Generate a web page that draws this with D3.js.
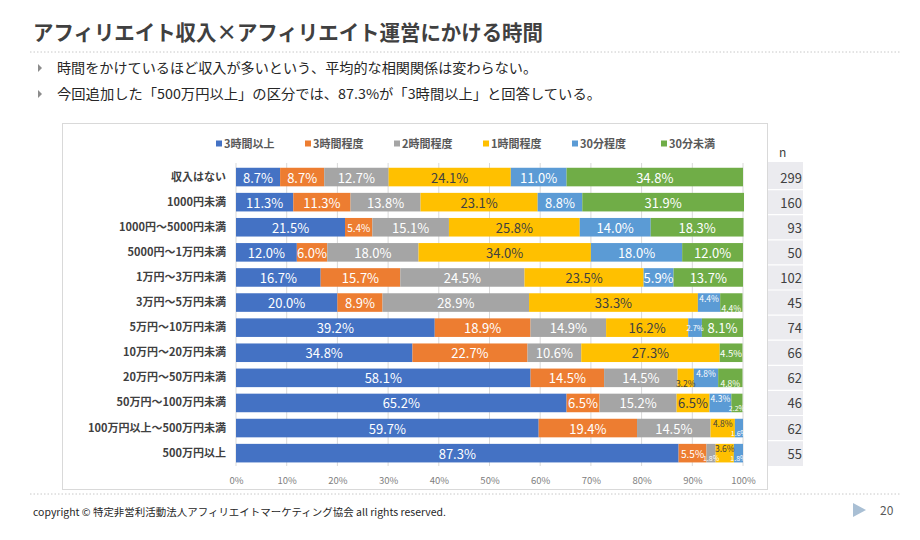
<!DOCTYPE html>
<html><head><meta charset="utf-8">
<script src="https://cdn.jsdelivr.net/npm/d3@7"></script>
<style>
html,body{margin:0;padding:0;background:#fff;}
svg text{font-family:"Noto Sans CJK JP","Noto Sans",sans-serif;}
</style></head>
<body><svg id="c" width="920" height="540"></svg>
<script>
const title = "アフィリエイト収入×アフィリエイト運営にかける時間";
const bullets = ["時間をかけているほど収入が多いという、平均的な相関関係は変わらない。",
  "今回追加した「500万円以上」の区分では、87.3%が「3時間以上」と回答している。"];
const footer = "copyright © 特定非営利活動法人アフィリエイトマーケティング協会 all rights reserved.";
const pageNo = "20";

const categories = ["収入はない","1000円未満","1000円～5000円未満","5000円～1万円未満","1万円～3万円未満",
  "3万円～5万円未満","5万円～10万円未満","10万円～20万円未満","20万円～50万円未満","50万円～100万円未満",
  "100万円以上～500万円未満","500万円以上"];
const seriesNames = ["3時間以上","3時間程度","2時間程度","1時間程度","30分程度","30分未満"];
const seriesColors = ["#4472C4","#ED7D31","#A5A5A5","#FFC000","#5B9BD5","#70AD47"];
const s3hPlus  = [8.7,11.3,21.5,12.0,16.7,20.0,39.2,34.8,58.1,65.2,59.7,87.3];
const s3h      = [8.7,11.3,5.4,6.0,15.7,8.9,18.9,22.7,14.5,6.5,19.4,5.5];
const s2h      = [12.7,13.8,15.1,18.0,24.5,28.9,14.9,10.6,14.5,15.2,14.5,1.8];
const s1h      = [24.1,23.1,25.8,34.0,23.5,33.3,16.2,27.3,3.2,6.5,4.8,3.6];
const s30m     = [11.0,8.8,14.0,18.0,5.9,4.4,2.7,0,4.8,4.3,1.6,1.8];
const sLess30  = [34.8,31.9,18.3,12.0,13.7,4.4,8.1,4.5,4.8,2.2,0,0];
const nValues  = [299,160,93,50,102,45,74,66,62,46,62,55];
const xTicks   = [0,10,20,30,40,50,60,70,80,90,100];

const series = [s3hPlus,s3h,s2h,s1h,s30m,sLess30];
const rows = categories.map((c,i)=>{const o={cat:c}; seriesNames.forEach((s,k)=>o[s]=series[k][i]); return o;});
const stacked = d3.stack().keys(seriesNames)(rows);

const svg = d3.select("#c");
const dark = "#404040";

// title
svg.append("text").attr("x",33).attr("y",40).attr("font-size",21).attr("font-weight","bold")
  .attr("fill",dark).attr("textLength",510).attr("lengthAdjust","spacingAndGlyphs").text(title);
svg.append("line").attr("x1",30).attr("x2",900).attr("y1",52).attr("y2",52)
  .attr("stroke","#c8c8c8").attr("stroke-dasharray","1.5,2");

// bullets
const bulletW = [480,544];
bullets.forEach((b,i)=>{
  const y = 73 + i*26;
  svg.append("path").attr("d",`M38,${y-9} L42,${y-5} L38,${y-1} Z`).attr("fill","#8c8c8c");
  svg.append("text").attr("x",57).attr("y",y).attr("font-size",13.5).attr("fill","#262626")
    .attr("textLength",bulletW[i]).attr("lengthAdjust","spacingAndGlyphs").text(b);
});

// chart frame
svg.append("rect").attr("x",62.5).attr("y",123.5).attr("width",705).attr("height",366)
  .attr("fill","#fff").attr("stroke","#d9d9d9");

const x = d3.scaleLinear().domain([0,100]).range([236,743]);
const y = d3.scaleBand().domain(categories).range([164.5,465.7]).paddingInner(0.26).paddingOuter(0.13);

// gridlines
svg.append("g").selectAll("line").data(xTicks).join("line")
  .attr("x1",d=>x(d)).attr("x2",d=>x(d)).attr("y1",163).attr("y2",466)
  .attr("stroke","#d9d9d9").attr("stroke-width",1);

// x axis
const xAxis = d3.axisBottom(x).tickValues(xTicks).tickFormat(d=>d+"%").tickSize(0).tickPadding(0);
const gx = svg.append("g").attr("transform","translate(0,477)").call(xAxis);
gx.select(".domain").remove();
gx.selectAll("text").attr("font-size",9.5).attr("fill","#808080").attr("font-family","Noto Sans CJK JP");

// y axis
const yAxis = d3.axisLeft(y).tickSize(0).tickPadding(0);
const gy = svg.append("g").attr("transform","translate(226,0)").call(yAxis);
gy.select(".domain").remove();
gy.selectAll("text").attr("font-size",11).attr("font-weight","bold").attr("fill",dark)
  .attr("font-family","Noto Sans CJK JP");

// bars
const layers = svg.append("g").selectAll("g").data(stacked).join("g")
  .attr("fill",(d,i)=>seriesColors[i]);
layers.selectAll("rect").data(d=>d).join("rect")
  .attr("x",d=>x(d[0])).attr("width",d=>x(d[1])-x(d[0]))
  .attr("y",d=>y(d.data.cat)).attr("height",y.bandwidth());

// labels
const lab = svg.append("g");
rows.forEach((r,ri)=>{
  const segs = stacked.map((layer,k)=>({k, d:layer[ri], v:layer[ri][1]-layer[ri][0]}))
    .filter(s=>s.v > 0.001);
  let i = 0;
  while (i < segs.length) {
    if (segs[i].v >= 5.8) { segs[i].fs = 13; segs[i].dy = 0; i++; continue; }
    if (segs[i].v >= 5) { segs[i].fs = 10; segs[i].dy = 0; i++; continue; }
    let j = i; while (j < segs.length && segs[j].v < 5) j++;
    const L = j - i;
    for (let t = i; t < j; t++) {
      if (L === 1) { segs[t].fs = segs[t].v >= 3 ? 9.5 : 7.5; segs[t].dy = 0; }
      else {
        segs[t].fs = segs[t].v >= 3 ? 8.5 : 7;
        segs[t].dy = (((L-1-(t-i)) % 2 === 0) ? 5 : -5);
      }
    }
    i = j;
  }
  segs.forEach(s=>{
    lab.append("text")
      .attr("x", x((s.d[0]+s.d[1])/2))
      .attr("y", y(r.cat) + y.bandwidth()/2 + s.dy)
      .attr("text-anchor","middle").attr("dominant-baseline","central")
      .attr("font-size",s.fs)
      .attr("font-family","Noto Sans, sans-serif")
      .attr("fill", s.k===3 ? "#404040" : "#ffffff")
      .text(s.v.toFixed(1)+"%");
  });
});

// legend
const lg = svg.append("g");
seriesNames.forEach((s,i)=>{
  const lx = 216 + i*89;
  lg.append("rect").attr("x",lx).attr("y",140.5).attr("width",6).attr("height",6).attr("fill",seriesColors[i]);
  lg.append("text").attr("x",lx+8).attr("y",148).attr("font-size",11).attr("font-weight","bold")
    .attr("fill","#595959").text(s);
});

// n column
svg.append("rect").attr("x",768).attr("y",162).attr("width",35).attr("height",466-162).attr("fill","#ebebef");
svg.append("text").attr("x",779).attr("y",157).attr("font-size",12).attr("fill",dark).text("n");
const step = y.step();
svg.append("g").selectAll("line").data(categories.slice(1)).join("line")
  .attr("x1",768).attr("x2",803)
  .attr("y1",d=>y(d)-(step-y.bandwidth())/2).attr("y2",d=>y(d)-(step-y.bandwidth())/2)
  .attr("stroke","#fff").attr("stroke-width",1.2);
svg.append("g").selectAll("text").data(nValues).join("text")
  .attr("x",802).attr("y",(d,i)=>y(categories[i])+y.bandwidth()/2)
  .attr("text-anchor","end").attr("dominant-baseline","central")
  .attr("font-size",13).attr("fill",dark).attr("font-family","Noto Sans, sans-serif").text(d=>d);

// footer
svg.append("line").attr("x1",30).attr("x2",900).attr("y1",494).attr("y2",494)
  .attr("stroke","#c8c8c8").attr("stroke-dasharray","1.5,2");
svg.append("text").attr("x",33).attr("y",516).attr("font-size",10).attr("fill","#262626")
  .attr("textLength",413).attr("lengthAdjust","spacingAndGlyphs").text(footer);
svg.append("path").attr("d","M853,503 L866,510 L853,517 Z").attr("fill","#a9bfd4");
svg.append("text").attr("x",880).attr("y",515).attr("font-size",12).attr("fill","#595959").text(pageNo);
</script></body></html>
